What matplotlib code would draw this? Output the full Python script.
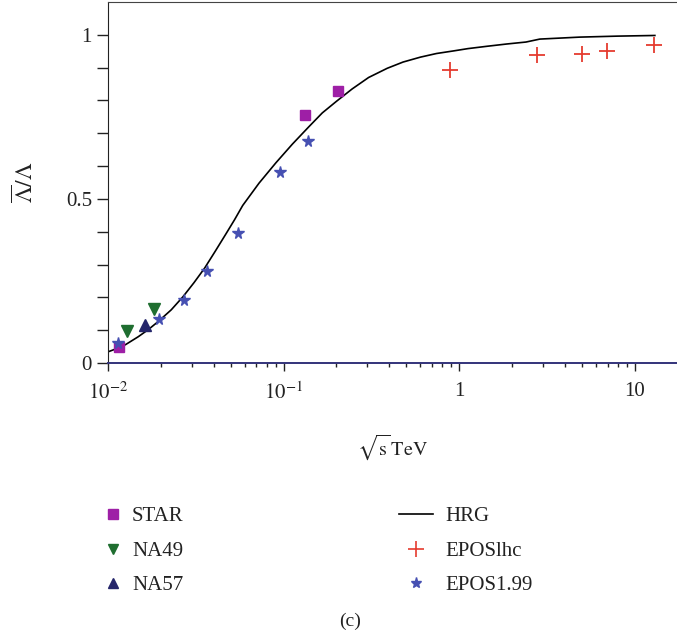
import numpy as np
import matplotlib
matplotlib.use("Agg")
import matplotlib.pyplot as plt
from matplotlib.ticker import LogLocator, FixedLocator, NullFormatter
from matplotlib.lines import Line2D

plt.rcParams['font.family'] = ['Liberation Serif', 'DejaVu Serif']
plt.rcParams['mathtext.fontset'] = 'stix'

# ---- data ----
star_x = [0.01154, 0.1324, 0.2047]
star_y = [0.050, 0.756, 0.830]

na49_x = [0.01277, 0.01828]
na49_y = [0.098, 0.164]

na57_x = [0.0163]
na57_y = [0.116]

eposlhc_x = [0.889, 2.76, 5.0, 6.9, 12.8]
eposlhc_y = [0.893, 0.939, 0.942, 0.952, 0.970]

epos199_x = [0.01144, 0.01945, 0.02698, 0.0366, 0.0551, 0.0955, 0.1383]
epos199_y = [0.062, 0.134, 0.191, 0.281, 0.397, 0.583, 0.676]

hrg_x = [0.0100, 0.01122, 0.01259, 0.01486, 0.01698, 0.01928, 0.02291, 0.02673,
         0.03090, 0.03548, 0.04074, 0.04677, 0.05248, 0.05848, 0.07244, 0.09036,
         0.1122, 0.1393, 0.1660, 0.1995, 0.2455, 0.3048, 0.3890, 0.4786, 0.6012,
         0.7413, 0.9290, 1.122, 1.435, 1.862, 2.399, 2.877, 4.853, 7.943, 13.0]
hrg_y = [0.034, 0.044, 0.056, 0.080, 0.102, 0.126, 0.162, 0.202,
         0.245, 0.289, 0.340, 0.392, 0.436, 0.480, 0.548, 0.610,
         0.667, 0.720, 0.762, 0.797, 0.835, 0.870, 0.898, 0.917, 0.932,
         0.943, 0.951, 0.958, 0.965, 0.972, 0.978, 0.987, 0.993, 0.996, 0.998]

# ---- colors ----
c_star = '#9E1FA6'
c_na49 = '#1F6E30'
c_na57 = '#25266B'
c_lhc = '#E53B2F'
c_199 = '#4650B2'
c_text = '#222222'

fig = plt.figure(figsize=(6.77, 6.38), dpi=100)
ax = fig.add_axes([108/677, (638-363)/638, 1 - 108/677, (363-2)/638])

ax.plot(hrg_x, hrg_y, color='black', lw=1.2, zorder=2)
ax.plot(star_x, star_y, 's', color=c_star, ms=7.5, ls='none', zorder=3)
ax.plot(na49_x, na49_y, 'v', color=c_na49, ms=8, ls='none', zorder=3)
ax.plot(na57_x, na57_y, '^', color=c_na57, ms=8, ls='none', zorder=3)
ax.plot(eposlhc_x, eposlhc_y, '+', color=c_lhc, ms=11.5, mew=1.3, ls='none', zorder=3)
ax.plot(epos199_x, epos199_y, '*', color=c_199, ms=8.5, ls='none', zorder=4)

ax.set_xscale('log')
ax.set_xlim(0.01, 10**1.24)
ax.set_ylim(0, 1.10)

ax.spines['right'].set_visible(False)
ax.spines['bottom'].set_color('#33337A')
ax.spines['bottom'].set_linewidth(1.4)
ax.spines['left'].set_color(c_text)
ax.spines['top'].set_color('#444444')

ax.xaxis.set_major_locator(FixedLocator([0.01, 0.1, 1, 10]))
ax.set_xticklabels([r'$10^{-2}$', r'$10^{-1}$', '1', '10'])
ax.xaxis.set_minor_locator(LogLocator(base=10, subs=np.arange(2, 10)))
ax.xaxis.set_minor_formatter(NullFormatter())
ax.yaxis.set_major_locator(FixedLocator([0, 0.5, 1]))
ax.set_yticklabels(['0', '0.5', '1'])
ax.yaxis.set_minor_locator(FixedLocator([0.1, 0.2, 0.3, 0.4, 0.6, 0.7, 0.8, 0.9]))

ax.tick_params(axis='both', which='both', direction='out', colors=c_text,
               labelsize=15, labelcolor=c_text)
ax.tick_params(axis='y', which='both', length=8, width=1)
ax.tick_params(axis='x', which='major', length=6, width=1, pad=8)
ax.tick_params(axis='x', which='minor', length=3, width=1)

ax.set_ylabel(r'$\overline{\Lambda}/\Lambda$', fontsize=17, labelpad=20, color=c_text)
ax.set_xlabel(r'$\sqrt{\mathrm{s}}\,\mathrm{TeV}$', fontsize=14.5, labelpad=20, color=c_text)

# ---- legends ----
h_left = [Line2D([], [], marker='s', color=c_star, ls='none', ms=7.5),
          Line2D([], [], marker='v', color=c_na49, ls='none', ms=7),
          Line2D([], [], marker='^', color=c_na57, ls='none', ms=7)]
l_left = ['STAR', 'NA49', 'NA57']
h_right = [Line2D([], [], color='black', lw=1.2),
           Line2D([], [], marker='+', color=c_lhc, ls='none', ms=11.5, mew=1.2),
           Line2D([], [], marker='*', color=c_199, ls='none', ms=8)]
l_right = ['HRG', 'EPOSlhc', 'EPOS1.99']

leg1 = fig.legend(h_left, l_left, loc='upper left', bbox_to_anchor=(84/677, 1 - 488/638),
                  frameon=False, fontsize=15, labelspacing=0.72, handlelength=1.0,
                  handletextpad=0.4, labelcolor=c_text)
leg2 = fig.legend(h_right, l_right, loc='upper left', bbox_to_anchor=(380/677, 1 - 488/638),
                  frameon=False, fontsize=15, labelspacing=0.72, handlelength=1.63,
                  handletextpad=0.6, labelcolor=c_text)

fig.text(350/677, 1 - 621/638, '(c)', ha='center', va='center', fontsize=14, color=c_text)

fig.savefig('out.png', dpi=100)
